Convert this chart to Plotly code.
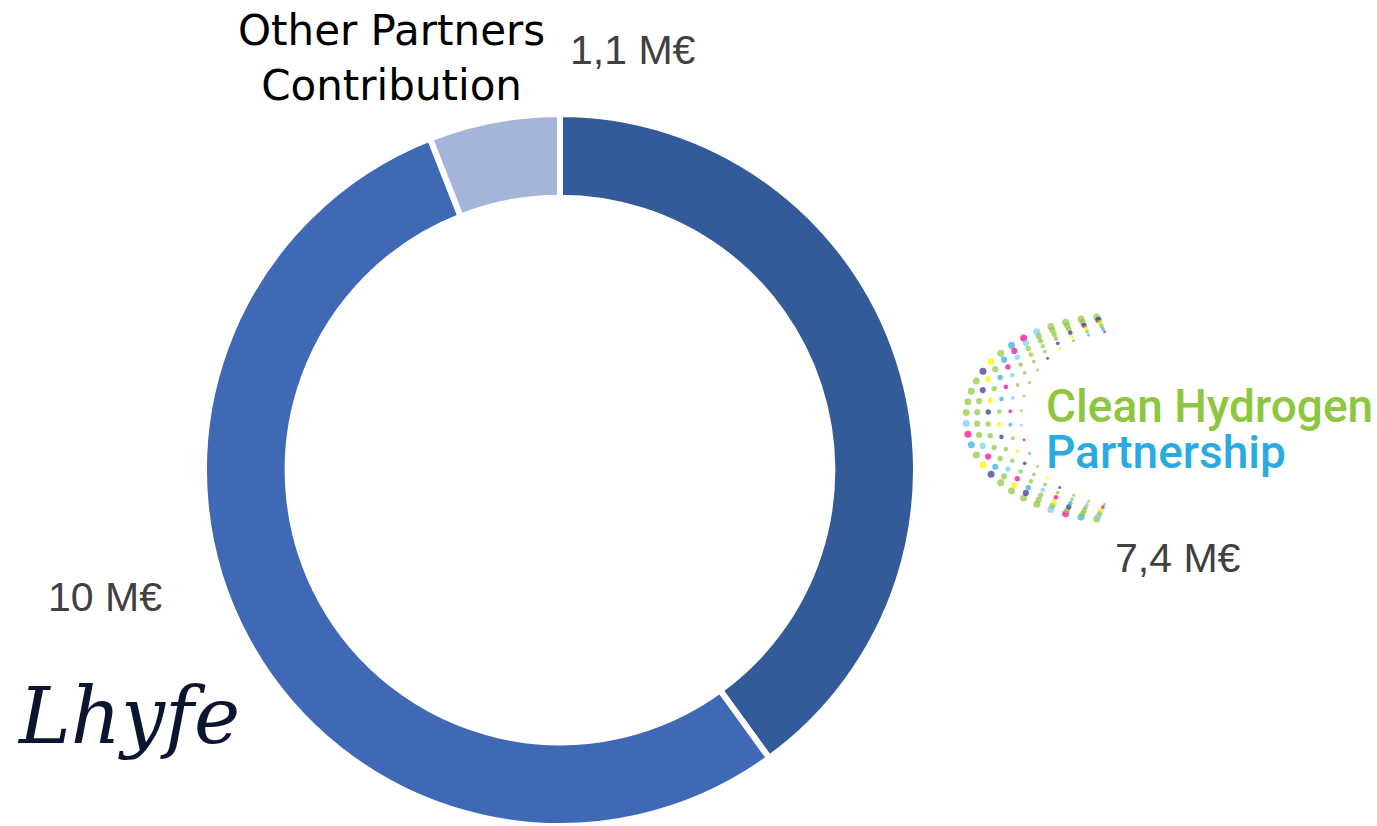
import math
import plotly.graph_objects as go

# ---- data ----
partners = ["Clean Hydrogen Partnership", "Lhyfe", "Other Partners Contribution"]
amounts = [7.4, 10, 1.1]
amount_labels = ["7,4 M€", "10 M€", "1,1 M€"]
colors = ["#335A99", "#3F69B5", "#A6B4DA"]

W, H = 1377, 826


def px(x):
    return x / W


def py(y):
    return 1 - y / H


fig = go.Figure()

fig.add_trace(go.Pie(
    labels=partners,
    values=amounts,
    sort=False,
    direction="clockwise",
    rotation=0,
    hole=0.765,
    marker=dict(colors=colors, line=dict(color="white", width=6)),
    textinfo="none",
    hoverinfo="label+value",
    showlegend=False,
    domain=dict(x=[px(204), px(916)], y=[py(826), py(114)]),
))

# ---- decorative logo dots (Clean Hydrogen Partnership logo) ----
dot_palette = ["#8DC63F", "#8DC63F", "#29ABE2", "#2E3192", "#8DC63F", "#EC008C",
               "#FFF200", "#8DC63F", "#6DCFF6", "#8DC63F"]
dx, dy, dc, ds = [], [], [], []
cx, cy = 1118, 418
for ring in range(6):
    rx = 152 - ring * 11
    ry = 102 - ring * 3
    n = 28 - ring * 2
    for k in range(n):
        a = math.radians(98 + k * (164 / (n - 1)))
        dx.append(cx + rx * math.cos(a))
        dy.append(cy - ry * math.sin(a))
        dc.append(dot_palette[(k * 7 + ring * 3) % len(dot_palette)])
        ds.append(7 - ring * 0.8)
fig.add_trace(go.Scatter(
    x=dx, y=dy, mode="markers",
    marker=dict(color=dc, size=ds, line=dict(width=0)),
    hoverinfo="skip", showlegend=False, xaxis="x", yaxis="y",
))

fig.update_layout(
    width=W, height=H,
    margin=dict(l=0, r=0, t=0, b=0),
    paper_bgcolor="white", plot_bgcolor="rgba(0,0,0,0)",
    xaxis=dict(range=[0, W], visible=False, domain=[0, 1], fixedrange=True),
    yaxis=dict(range=[H, 0], visible=False, domain=[0, 1], fixedrange=True),
)

value_font = dict(family="Liberation Sans, Arial", size=41, color="#404040")

annotations = [
    dict(text="Other Partners<br>Contribution", x=px(391), y=py(58), xanchor="center", yanchor="middle",
         font=dict(family="DejaVu Sans", size=42, color="#000000"), align="center"),
    dict(text=amount_labels[2], x=px(633), y=py(50), xanchor="center", yanchor="middle", font=value_font),
    dict(text=amount_labels[0], x=px(1178), y=py(558), xanchor="center", yanchor="middle", font=value_font),
    dict(text=amount_labels[1], x=px(105), y=py(597), xanchor="center", yanchor="middle", font=value_font),
    dict(text="<i>Lhyfe</i>", x=px(128), y=py(716), xanchor="center", yanchor="middle",
         font=dict(family="DejaVu Serif", size=78, color="#0B1530")),
    dict(text="Clean Hydrogen", x=px(1044), y=py(406), xanchor="left", yanchor="middle",
         font=dict(family="Roboto", size=46, color="#8DC63F", weight=500)),
    dict(text="Partnership", x=px(1044), y=py(452), xanchor="left", yanchor="middle",
         font=dict(family="Roboto", size=46, color="#29ABE2", weight=500)),
]
for a in annotations:
    a.update(xref="paper", yref="paper", showarrow=False)
fig.update_layout(annotations=annotations)

fig.write_html("out.html", config={"displayModeBar": False},
               post_script="document.body.style.margin='0';document.body.style.overflow='hidden';")
